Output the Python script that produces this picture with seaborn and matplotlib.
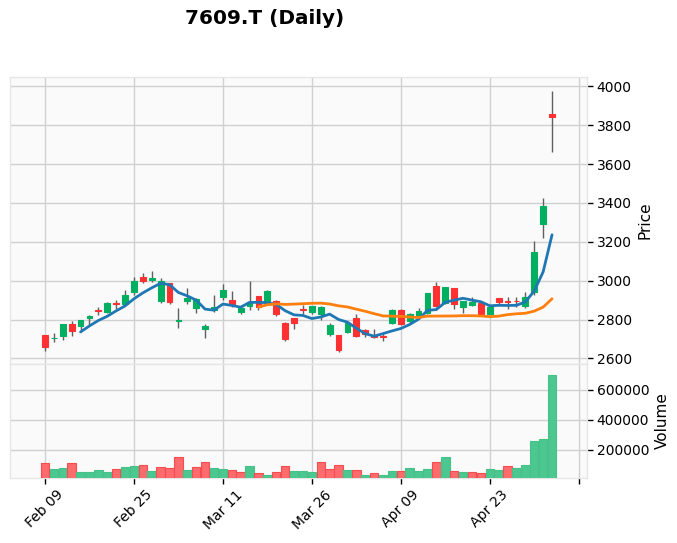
import numpy as np
import pandas as pd
import matplotlib
matplotlib.use('Agg')
import matplotlib.pyplot as plt
import seaborn as sns

# Daily OHLCV (58 sessions)
opens = [2720, 2703, 2715, 2776, 2768, 2810, 2849, 2839, 2883, 2878,
         2941, 3020, 3003, 2898, 2988, 2795, 2895, 2859, 2749, 2851,
         2915, 2902, 2839, 2869, 2919, 2885, 2898, 2783, 2808, 2853,
         2839, 2828, 2725, 2720, 2737, 2806, 2746, 2722, 2718, 2780,
         2849, 2794, 2818, 2835, 2973, 2887, 2960, 2863, 2877, 2887,
         2828, 2909, 2895, 2898, 2870, 2943, 3292, 3855]
highs = [2722, 2732, 2776, 2791, 2797, 2822, 2864, 2890, 2902, 2953,
         3020, 3042, 3051, 3014, 2988, 2861, 2963, 2910, 2776, 2927,
         2983, 2946, 2864, 2997, 2919, 2951, 2900, 2785, 2810, 2876,
         2872, 2870, 2780, 2720, 2784, 2828, 2753, 2753, 2725, 2852,
         2852, 2832, 2857, 2938, 2995, 2966, 2962, 2895, 2914, 2887,
         2866, 2910, 2918, 2918, 2943, 3206, 3424, 3977]
lows = [2639, 2686, 2695, 2715, 2741, 2771, 2822, 2834, 2856, 2878,
        2924, 2986, 2992, 2885, 2881, 2759, 2881, 2834, 2703, 2839,
        2902, 2864, 2827, 2851, 2847, 2883, 2817, 2691, 2749, 2830,
        2830, 2797, 2715, 2634, 2729, 2708, 2708, 2703, 2689, 2775,
        2773, 2784, 2815, 2830, 2866, 2880, 2852, 2835, 2870, 2825,
        2822, 2878, 2852, 2866, 2857, 2925, 3218, 3664]
closes = [2661, 2706, 2776, 2741, 2797, 2817, 2845, 2885, 2880, 2924,
          3000, 2997, 3015, 2997, 2890, 2798, 2910, 2905, 2766, 2864,
          2954, 2876, 2858, 2890, 2864, 2949, 2827, 2698, 2783, 2849,
          2870, 2866, 2772, 2646, 2780, 2715, 2724, 2708, 2712, 2849,
          2777, 2828, 2845, 2938, 2870, 2966, 2880, 2894, 2890, 2828,
          2863, 2892, 2890, 2894, 2914, 3146, 3384, 3843]
volumes = [111000, 73000, 80000, 111000, 53000, 53000, 67000, 53000, 73000, 87000,
           93000, 100000, 60000, 85000, 78000, 151000, 67000, 85000, 120000, 80000,
           73000, 67000, 53000, 93000, 47000, 33000, 53000, 93000, 60000, 60000,
           53000, 120000, 73000, 100000, 67000, 67000, 33000, 47000, 33000, 60000,
           60000, 80000, 60000, 73000, 120000, 153000, 60000, 53000, 53000, 47000,
           73000, 67000, 93000, 80000, 100000, 262000, 273000, 700000]

tick_pos = [0, 10, 20, 30, 40, 50, 60]
tick_labels = ['Feb 09', 'Feb 25', 'Mar 11', 'Mar 26', 'Apr 09', 'Apr 23', '']
mav_windows = [5, 25]

df = pd.DataFrame({'Open': opens, 'High': highs, 'Low': lows,
                   'Close': closes, 'Volume': volumes})
df['idx'] = np.arange(len(df))
for w in mav_windows:
    df[f'ma{w}'] = df['Close'].rolling(w).mean()

up_c, down_c = '#00b060', '#fe3032'
vol_up, vol_down = '#4dc790', '#fd6b6c'

sns.set_theme(style='whitegrid')
plt.rcParams['font.family'] = ['DejaVu Sans']
plt.rcParams['text.color'] = 'black'
plt.rcParams['axes.labelcolor'] = 'black'
plt.rcParams['xtick.color'] = 'black'
plt.rcParams['ytick.color'] = 'black'

fig = plt.figure(figsize=(6.77, 5.43), dpi=100)
W, H = 677, 543
ax = fig.add_axes([10 / W, 1 - 364 / H, 577 / W, (364 - 77.3) / H])
axv = fig.add_axes([10 / W, 1 - 478 / H, 577 / W, (478 - 364) / H], sharex=ax)

for a in (ax, axv):
    a.set_facecolor('#fafafa')
    a.grid(True, color='#d0d0d0', linewidth=1)
    a.set_axisbelow(True)
    for s in a.spines.values():
        s.set_color('#e6e6e6')
        s.set_linewidth(1)
    a.yaxis.tick_right()
    a.yaxis.set_label_position('right')
    a.tick_params(axis='y', which='both', right=True, left=False, length=4,
                  width=1, color='black', labelcolor='black', labelsize=10, pad=3)

# candles
up = df['Close'] >= df['Open']
ccol = np.where(up, up_c, down_c)
ax.vlines(df['idx'], df['Low'], df['High'], color='#606060', linewidth=1, zorder=2)
body_lo = np.minimum(df['Open'], df['Close'])
body_h = (df['Close'] - df['Open']).abs()
ax.bar(df['idx'], body_h, bottom=body_lo, width=0.65, color=ccol,
       edgecolor=ccol, linewidth=0.8, zorder=3)

# moving averages
for w, col in zip(mav_windows, ['#1f77b4', '#ff7f0e']):
    sns.lineplot(data=df, x='idx', y=f'ma{w}', ax=ax, color=col,
                 linewidth=2, zorder=4)

ax.set_ylim(2571.5, 4046.3)
ax.set_yticks(np.arange(2600, 4001, 200))
ax.set_ylabel('Price', fontsize=11)
ax.set_xlabel('')
ax.tick_params(axis='x', bottom=False, labelbottom=False)

# volume
vup = df['Close'].diff() > 0
vcol = np.where(vup, vol_up, vol_down)
vedge = np.where(vup, '#45c288', '#f54d4f')
axv.bar(df['idx'], df['Volume'], width=0.95, color=vcol, edgecolor=vedge,
        linewidth=0.8, zorder=3)
axv.set_ylim(13300, 773000)
axv.set_yticks([200000, 400000, 600000])
axv.set_yticklabels(['200000', '400000', '600000'])
axv.set_ylabel('Volume', fontsize=11)

axv.set_xlim(-3.93, 60.93)
axv.set_xticks(tick_pos)
axv.set_xticklabels(tick_labels, rotation=45, ha='center', fontsize=10)
axv.tick_params(axis='x', bottom=True, length=4, width=1, color='black',
                labelcolor='black', pad=3)

fig.text(265 / W, 1 - 19 / H, '7609.T (Daily)', ha='center', va='center',
         fontsize=14.4, fontweight='bold', color='black')

fig.savefig('out.png', dpi=100)
